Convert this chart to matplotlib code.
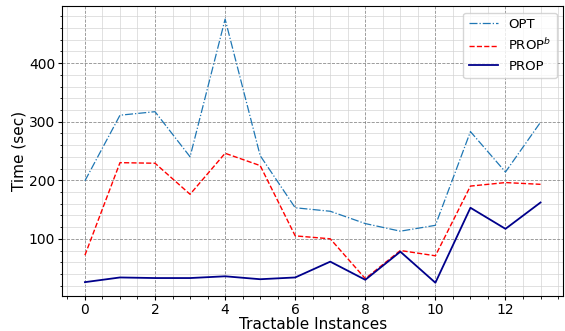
import matplotlib
matplotlib.use("Agg")
import matplotlib.pyplot as plt
import numpy as np

instances = np.arange(14)
opt = [199, 311, 317, 240, 475, 242, 153, 147, 126, 113, 123, 283, 214, 299]
prop_b = [72, 230, 229, 176, 246, 225, 105, 100, 32, 80, 71, 190, 196, 193]
prop = [26, 34, 33, 33, 36, 31, 34, 61, 30, 78, 25, 153, 117, 162]

fig, ax = plt.subplots(figsize=(5.65, 3.31), dpi=100)

ax.plot(instances, opt, '-.', color='tab:blue', linewidth=0.9, label='OPT')
ax.plot(instances, prop_b, '--', color='red', linewidth=1.0, label='PROP$^b$')
ax.plot(instances, prop, '-', color='darkblue', linewidth=1.3, label='PROP')

ax.minorticks_on()
ax.grid(which='major', linestyle='--', color='gray', linewidth=0.6, alpha=0.9)
ax.grid(which='minor', linestyle='-', color='lightgray', linewidth=0.6, alpha=0.8)

ax.set_xlabel('Tractable Instances', fontsize=11, labelpad=0)
ax.set_ylabel('Time (sec)', fontsize=11, labelpad=2)
ax.tick_params(which='major', labelsize=10, length=3, pad=2)
ax.tick_params(which='minor', length=1.8)
ax.legend(loc='upper right', fontsize=9.5, handlelength=2.2)

plt.subplots_adjust(left=0.11, right=0.997, top=0.982, bottom=0.106)
plt.savefig('out.png')
